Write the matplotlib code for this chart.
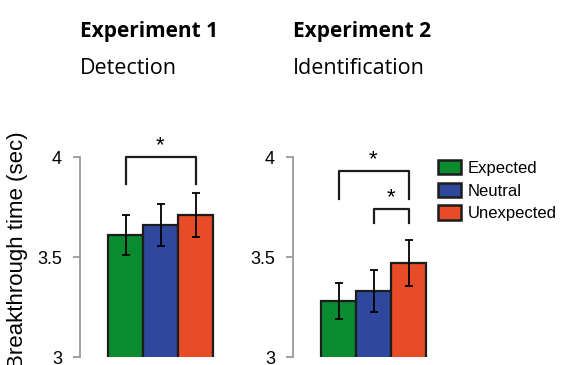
import matplotlib
matplotlib.use("Agg")
import matplotlib.pyplot as plt
from matplotlib.patches import Patch

conditions = ["Expected", "Neutral", "Unexpected"]
colors = ["#0b8b30", "#2d489c", "#e84b27"]

exp1_means = [3.61, 3.66, 3.71]
exp1_errs = [0.10, 0.105, 0.11]
exp2_means = [3.28, 3.33, 3.47]
exp2_errs = [0.09, 0.107, 0.115]

titles = ["Experiment 1", "Experiment 2"]
subtitles = ["Detection", "Identification"]

# brackets: (left bar, right bar, top, leg bottom)
exp1_brackets = [(0, 2, 4.0, 3.865)]
exp2_brackets = [(0, 2, 3.93, 3.79), (1, 2, 3.74, 3.67)]

W, H = 563, 365
fig = plt.figure(figsize=(W / 100, H / 100), dpi=100)
plt.rcParams['font.family'] = ['Liberation Sans', 'DejaVu Sans']

panels = [
    (80, exp1_means, exp1_errs, exp1_brackets),
    (293, exp2_means, exp2_errs, exp2_brackets),
]
axes = []
for i, (left, means, errs, brackets) in enumerate(panels):
    ax = fig.add_axes([left / W, 8 / H, 136.5 / W, 200 / H])
    x = range(len(means))
    ax.bar(x, means, width=1.0, color=colors, edgecolor="#1c1c1c",
           linewidth=1.6, bottom=0, zorder=2)
    ax.errorbar(x, means, yerr=errs, fmt="none", ecolor="black",
                elinewidth=1.3, capsize=3, capthick=1.3, zorder=3)
    ax.set_xlim(-1.3, 2.6)
    ax.set_ylim(3, 4)
    ax.set_yticks([3, 3.5, 4])
    ax.set_yticklabels(["3", "3.5", "4"], fontsize=13)
    ax.set_xticks([])
    for s in ["top", "right", "bottom"]:
        ax.spines[s].set_visible(False)
    ax.spines["left"].set_color("#999999")
    ax.spines["left"].set_linewidth(1.3)
    ax.tick_params(axis="y", color="#999999", width=1.3, length=5, pad=8)
    for a, b, top, low in brackets:
        ax.plot([a, a, b, b], [low, top, top, low], color="#1c1c1c",
                lw=1.6, clip_on=False, zorder=3)
        ax.text((a + b) / 2, top + 0.005, "*", ha="center", va="bottom",
                fontsize=16, clip_on=False)
    fig.text(left / W, 1 - 31 / H, titles[i], fontsize=15, fontweight="bold",
             family=["Open Sans", "DejaVu Sans"], ha="left", va="center")
    fig.text(left / W, 1 - 68 / H, subtitles[i], fontsize=15.5,
             family=["Open Sans", "DejaVu Sans"], ha="left", va="center")
    axes.append(ax)

axes[0].set_ylabel("Breakthrough time (sec)", fontsize=16)
axes[0].yaxis.set_label_coords(-0.38, 0.535)

handles = [Patch(facecolor=c, edgecolor="#1c1c1c", linewidth=1.8) for c in colors]
fig.legend(handles, conditions, loc="upper left",
           bbox_to_anchor=(438 / W, 1 - 160 / H), frameon=False,
           fontsize=12, handlelength=1.35, handleheight=0.95,
           handletextpad=0.45, labelspacing=0.4, borderpad=0,
           borderaxespad=0)

fig.savefig("out.png", dpi=100)
